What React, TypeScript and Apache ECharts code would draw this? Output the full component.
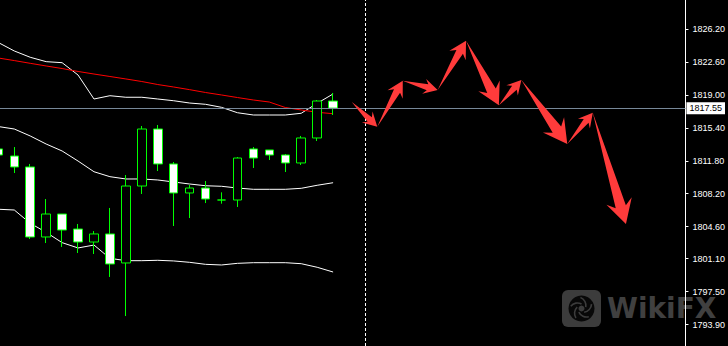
import React, { useEffect, useRef } from 'react';
import * as echarts from 'echarts';

// candle positions (bar index) and OHLC prices
const candleIndex = [-1, 0, 1, 2, 3, 4, 5, 6, 7, 8, 9, 10, 11, 12, 13, 14, 15, 16, 17, 18, 19, 20];
const opens = [1813.09, 1812.32, 1811.12, 1803.47, 1805.98, 1804.34, 1802.92, 1803.80, 1800.63, 1809.04, 1815.27, 1811.45, 1808.28, 1808.82, 1807.51, 1807.51, 1813.09, 1812.98, 1812.43, 1811.56, 1814.29, 1818.33];
const closes = [1812.43, 1811.12, 1803.47, 1805.98, 1804.23, 1802.92, 1803.80, 1800.52, 1809.04, 1815.27, 1811.45, 1808.28, 1808.82, 1807.62, 1807.51, 1812.10, 1812.10, 1812.43, 1811.56, 1814.29, 1818.33, 1817.55];
const lows = [1812.10, 1810.46, 1803.25, 1802.81, 1802.38, 1801.72, 1801.61, 1799.10, 1794.83, 1808.17, 1810.68, 1804.67, 1805.54, 1807.18, 1807.11, 1806.75, 1811.01, 1811.88, 1810.57, 1811.34, 1813.96, 1816.80];
const highs = [1813.50, 1813.30, 1811.45, 1807.62, 1805.98, 1804.89, 1804.12, 1806.64, 1810.24, 1815.60, 1815.71, 1811.66, 1809.15, 1809.59, 1808.35, 1812.21, 1813.30, 1812.98, 1812.54, 1814.51, 1818.44, 1819.21];

// Bollinger bands and slow moving average
const upperBand = [1824.72, 1823.80, 1823.11, 1822.63, 1822.52, 1821.17, 1818.55, 1818.91, 1818.74, 1818.74, 1818.55, 1818.36, 1818.11, 1817.97, 1817.64, 1817.05, 1816.80, 1816.80, 1816.80, 1816.99, 1818.08, 1819.10];
const middleBand = [1815.54, 1815.27, 1814.51, 1813.63, 1812.87, 1811.77, 1810.60, 1810.06, 1809.81, 1809.81, 1809.70, 1809.48, 1809.26, 1809.07, 1809.01, 1808.82, 1808.68, 1808.68, 1808.68, 1808.79, 1809.12, 1809.40];
const lowerBand = [1806.50, 1806.42, 1804.97, 1803.98, 1802.85, 1802.27, 1802.59, 1801.14, 1800.88, 1800.88, 1800.92, 1800.85, 1800.70, 1800.48, 1800.41, 1800.59, 1800.66, 1800.66, 1800.66, 1800.55, 1800.16, 1799.64];
const slowMA = [1823.03, 1822.75, 1822.45, 1822.16, 1821.88, 1821.56, 1821.28, 1821.01, 1820.74, 1820.46, 1820.13, 1819.86, 1819.57, 1819.26, 1818.99, 1818.71, 1818.44, 1818.22, 1817.62, 1817.35, 1817.10, 1816.94];

// price axis tick labels
const yTickLabels = [1826.2, 1822.6, 1819.0, 1815.4, 1811.8, 1808.2, 1804.6, 1801.1, 1797.5, 1793.9];
const bidPrice = 1817.55;
const separatorIndex = 22;

// forecast arrow path (bar index, price)
const arrowX = [21.17, 22.77, 24.37, 26.56, 28.34, 30.40, 31.81, 34.69, 36.29, 38.37];
const arrowPrice = [1818.22, 1815.52, 1820.55, 1819.53, 1824.92, 1817.86, 1820.63, 1813.63, 1817.05, 1804.89];

export default function App() {
  const ref = useRef<HTMLDivElement>(null);
  useEffect(() => {
    const chart = echarts.init(ref.current as HTMLDivElement, null, { renderer: 'svg' });
    const candles = candleIndex.map((k, i) => [k, opens[i], closes[i], lows[i], highs[i]]);
    const toLine = (arr: number[]) => candleIndex.map((k, i) => [k, arr[i]]);
    const segments = arrowX.slice(0, -1).map((x, i) => [x, arrowPrice[i], arrowX[i + 1], arrowPrice[i + 1]]);

    const cx = 581.5, cy = 308.5;
    const swirl: any[] = [0, 1, 2, 3, 4].map((i) => {
      const a = (i * 72 * Math.PI) / 180;
      return {
        type: 'arc',
        shape: { cx: cx + 5 * Math.cos(a), cy: cy + 5 * Math.sin(a), r: 8.5, startAngle: a + 1.3, endAngle: a + 2.7 },
        style: { stroke: '#3c3c3c', lineWidth: 1.6, fill: 'none' },
        z: -1,
      };
    });

    const option: any = {
      animation: false,
      backgroundColor: '#000000',
      grid: { left: 0, right: 40, top: 0, bottom: 0, containLabel: false },
      xAxis: { type: 'value', min: -0.896, max: 42.104, show: false, splitLine: { show: false } },
      yAxis: {
        type: 'value',
        position: 'right',
        min: 1791.555,
        max: 1829.37,
        splitLine: { show: false },
        axisLine: { show: true, onZero: false, lineStyle: { color: '#ffffff', width: 1 } },
        axisTick: { show: true, inside: false, length: 3, lineStyle: { color: '#ffffff' }, customValues: yTickLabels },
        axisLabel: {
          show: true,
          customValues: yTickLabels,
          color: '#ffffff',
          fontSize: 9,
          fontFamily: 'Liberation Sans',
          margin: 7,
          formatter: (v: number) => v.toFixed(2),
        },
      },
      graphic: [
        { type: 'rect', shape: { x: 562, y: 290, width: 39, height: 37, r: 6 }, style: { fill: '#3c3c3c' }, z: -1 },
        { type: 'circle', shape: { cx, cy, r: 13 }, style: { fill: '#080808' }, z: -1 },
        ...swirl,
        { type: 'circle', shape: { cx, cy, r: 3 }, style: { fill: '#3c3c3c' }, z: -1 },
        {
          type: 'text',
          x: 607,
          y: 308,
          style: { text: 'WikiFX', font: 'bold 28px "DejaVu Sans"', fill: '#404040', verticalAlign: 'middle', align: 'left' },
          z: -1,
        },
      ],
      series: [
        {
          type: 'line',
          data: toLine(upperBand),
          showSymbol: false,
          silent: true,
          lineStyle: { color: '#ffffff', width: 1 },
          z: 2,
        },
        {
          type: 'line',
          data: toLine(middleBand),
          showSymbol: false,
          silent: true,
          lineStyle: { color: '#ffffff', width: 1 },
          z: 2,
        },
        {
          type: 'line',
          data: toLine(lowerBand),
          showSymbol: false,
          silent: true,
          lineStyle: { color: '#ffffff', width: 1 },
          z: 2,
        },
        {
          type: 'line',
          data: toLine(slowMA),
          showSymbol: false,
          silent: true,
          lineStyle: { color: '#ff0000', width: 1 },
          z: 3,
        },
        {
          type: 'candlestick',
          data: candles,
          encode: { x: 0, y: [1, 2, 3, 4] },
          barWidth: 9,
          silent: true,
          z: 4,
          itemStyle: {
            color: '#000000',
            color0: '#ffffff',
            borderColor: '#00ff00',
            borderColor0: '#00ff00',
            borderColorDoji: '#00ff00',
            borderWidth: 1,
          },
          markLine: {
            silent: true,
            symbol: ['none', 'none'],
            animation: false,
            data: [
              {
                yAxis: bidPrice,
                lineStyle: { color: '#778899', width: 1, type: 'solid' },
                label: {
                  show: true,
                  position: 'end',
                  formatter: bidPrice.toFixed(2),
                  backgroundColor: '#ffffff',
                  color: '#000000',
                  fontSize: 9,
                  fontFamily: 'Liberation Sans',
                  padding: [2, 3, 1, 3],
                  distance: 1,
                },
              },
              {
                xAxis: separatorIndex,
                lineStyle: { color: '#ffffff', width: 1, type: [3, 2] },
                label: { show: false },
              },
            ],
          },
        },
        {
          type: 'custom',
          data: segments,
          encode: { x: [0, 2], y: [1, 3] },
          silent: true,
          z: 5,
          renderItem: (params: any, api: any) => {
            const a = api.coord([api.value(0), api.value(1)]);
            const b = api.coord([api.value(2), api.value(3)]);
            const dx = b[0] - a[0];
            const dy = b[1] - a[1];
            const L = Math.hypot(dx, dy);
            const ux = dx / L, uy = dy / L;
            const nx = -uy, ny = ux;
            const h = Math.min(24, Math.max(14, 0.3 * L));
            const hw = h * 0.55, sw = h * 0.22;
            const jx = b[0] - ux * h * 0.75, jy = b[1] - uy * h * 0.75;
            const bx = b[0] - ux * h, by = b[1] - uy * h;
            const points = [
              a,
              [jx + nx * sw, jy + ny * sw],
              [bx + nx * hw, by + ny * hw],
              b,
              [bx - nx * hw, by - ny * hw],
              [jx - nx * sw, jy - ny * sw],
            ];
            return { type: 'polygon', shape: { points }, style: { fill: '#ff3b3b' } };
          },
        },
      ],
    };
    chart.setOption(option);
    return () => chart.dispose();
  }, []);
  return <div ref={ref} style={{ position: 'fixed', left: 0, top: 0, width: 728, height: 346 }} />;
}
